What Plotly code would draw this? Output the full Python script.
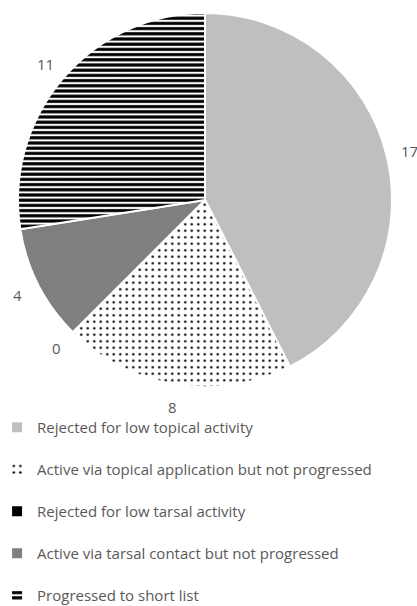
import math
import plotly.graph_objects as go

labels = [
    "Rejected for low topical activity",
    "Active via topical application but not progressed",
    "Rejected for low tarsal activity",
    "Active via tarsal contact but not progressed",
    "Progressed to short list",
]
values = [17, 8, 0, 4, 11]

colors = ["#bfbfbf", "#ffffff", "#000000", "#7f7f7f", "#ffffff"]
pattern_shapes = ["", ".", "", "", "-"]
pattern_fg = ["#bfbfbf", "#000000", "#000000", "#7f7f7f", "#000000"]
pattern_bg = ["#bfbfbf", "#ffffff", "#000000", "#7f7f7f", "#ffffff"]
pattern_size = [8, 6.5, 8, 8, 5.2]
pattern_solidity = [0.3, 0.12, 0.3, 0.3, 0.6]

W, H = 417, 606
cx, cy, r = 205, 200, 187
label_gap = 23

fig = go.Figure(
    go.Pie(
        labels=[l + ("<br> " if i < len(labels) - 1 else "") for i, l in enumerate(labels)],
        values=values,
        sort=False,
        direction="clockwise",
        rotation=0,
        textinfo="none",
        marker=dict(
            colors=colors,
            line=dict(color="#ffffff", width=2),
            pattern=dict(
                shape=pattern_shapes,
                fgcolor=pattern_fg,
                bgcolor=pattern_bg,
                size=pattern_size,
                solidity=pattern_solidity,
                fillmode="replace",
            ),
        ),
        domain=dict(
            x=[(cx - r) / W, (cx + r) / W],
            y=[1 - (cy + r) / H, 1 - (cy - r) / H],
        ),
        showlegend=True,
        hoverinfo="label+value",
    )
)

# value labels placed just outside each slice's mid-angle
total = sum(values)
cum = 0
annotations = []
for v in values:
    mid = (cum + v / 2) / total * 2 * math.pi
    cum += v
    d = r + label_gap
    px = cx + d * math.sin(mid)
    py = cy - d * math.cos(mid)
    annotations.append(
        dict(
            x=px / W,
            y=1 - py / H,
            xref="paper",
            yref="paper",
            text=str(v),
            showarrow=False,
            xanchor="center",
            yanchor="middle",
            font=dict(color="#595959", size=15, family="Open Sans"),
        )
    )

fig.update_layout(
    width=W,
    height=H,
    margin=dict(l=0, r=0, t=0, b=0, autoexpand=False),
    paper_bgcolor="white",
    plot_bgcolor="white",
    annotations=annotations,
    legend=dict(
        orientation="v",
        x=-0.007,
        xanchor="left",
        y=1 - 411 / H,
        yanchor="top",
        font=dict(color="#595959", size=15, family="Open Sans"),
        valign="top",
        itemwidth=30,
        bgcolor="rgba(0,0,0,0)",
    ),
)

fig.write_html("out.html")
